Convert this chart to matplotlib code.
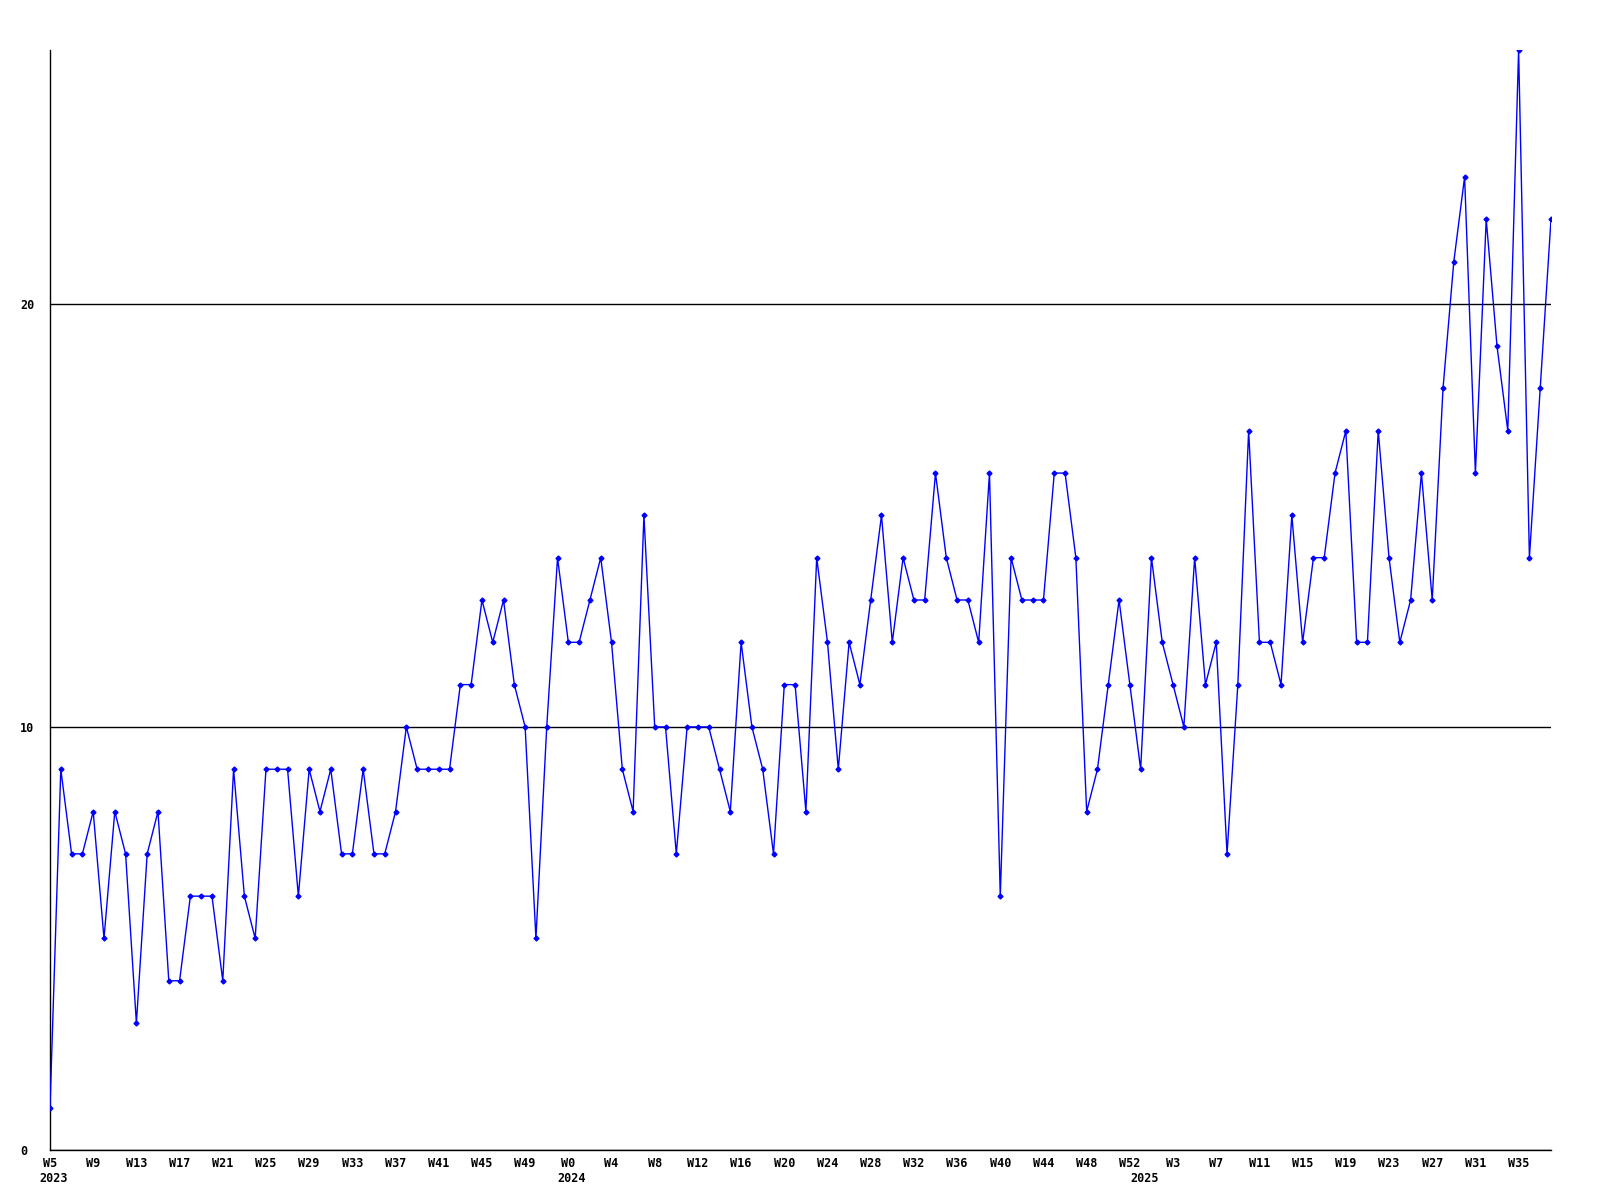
import matplotlib
matplotlib.use("Agg")
import matplotlib.pyplot as plt

# weekly counts, 2023 W5 .. 2025 W38
weeks_2023 = list(range(5, 53))
weeks_2024 = list(range(0, 53))
weeks_2025 = list(range(0, 39))

values = [1, 9, 7, 7, 8, 5, 8, 7, 3, 7, 8, 4, 4, 6, 6, 6, 4, 9, 6, 5,
          9, 9, 9, 6, 9, 8, 9, 7, 7, 9, 7, 7, 8, 10, 9, 9, 9, 9, 11, 11,
          13, 12, 13, 11, 10, 5, 10, 14, 12, 12, 13, 14, 12, 9, 8, 15, 10, 10, 7, 10,
          10, 10, 9, 8, 12, 10, 9, 7, 11, 11, 8, 14, 12, 9, 12, 11, 13, 15, 12, 14,
          13, 13, 16, 14, 13, 13, 12, 16, 6, 14, 13, 13, 13, 16, 16, 14, 8, 9, 11, 13,
          11, 9, 14, 12, 11, 10, 14, 11, 12, 7, 11, 17, 12, 12, 11, 15, 12, 14, 14, 16,
          17, 12, 12, 17, 14, 12, 13, 16, 13, 18, 21, 23, 16, 22, 19, 17, 26, 14, 18, 22]

year_names = ["2023", "2024", "2025"]
y_ticks = [0, 10, 20]

week_labels = ["W%d" % w for w in weeks_2023 + weeks_2024 + weeks_2025]
year_starts = [0, len(weeks_2023), len(weeks_2023) + len(weeks_2024)]

x = list(range(len(values)))

fig = plt.figure(figsize=(16, 12), dpi=100)
ax = fig.add_axes([50 / 1600, 50 / 1200, 1501 / 1600, 1100 / 1200])

ax.plot(x, values, color="#0000ff", lw=1, marker="D", ms=2.5, zorder=3)

ax.set_xlim(0, len(values) - 1)
ax.set_ylim(0, max(values))

font = dict(family="DejaVu Sans Mono", weight="bold", size=8.5)

# y axis: ticks at 0/10/20 with black rules
ax.set_yticks(y_ticks)
ax.set_yticklabels([str(t) for t in y_ticks], **font)
for lbl in ax.get_yticklabels():
    lbl.set_horizontalalignment("left")
ax.tick_params(axis="y", length=0, pad=21.5)
ax.grid(axis="y", color="black", lw=1, zorder=1)

# x axis: label every 4th week
ticks = x[::4]
ax.set_xticks(ticks)
ax.set_xticklabels([week_labels[i] for i in ticks], **font)
ax.tick_params(axis="x", length=0, pad=5)

for name, i in zip(year_names, year_starts):
    ax.annotate(name, xy=(i, 0), xycoords=("data", "axes fraction"),
                xytext=(2.5, -16), textcoords="offset points",
                ha="center", va="top", annotation_clip=False, **font)

ax.spines["top"].set_visible(False)
ax.spines["right"].set_visible(False)
for s in ("left", "bottom"):
    ax.spines[s].set_color("black")
    ax.spines[s].set_linewidth(1)

fig.savefig("out.png", dpi=100)
